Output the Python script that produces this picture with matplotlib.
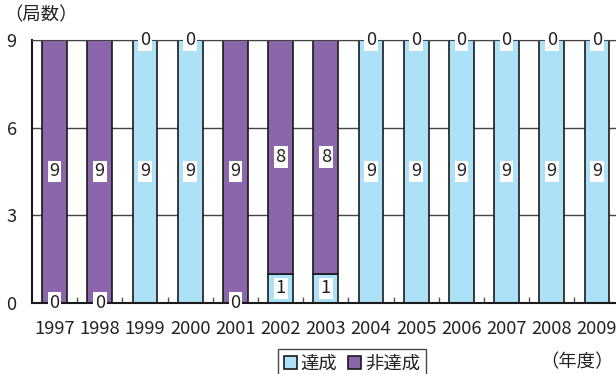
import matplotlib
matplotlib.use("Agg")
import matplotlib.pyplot as plt
from matplotlib.patches import Patch
import numpy as np

plt.rcParams['font.family'] = ['Noto Sans CJK JP', 'DejaVu Sans']

years = ["1997", "1998", "1999", "2000", "2001", "2002", "2003",
         "2004", "2005", "2006", "2007", "2008", "2009"]
achieved = [0, 0, 9, 9, 0, 1, 1, 9, 9, 9, 9, 9, 9]
not_achieved = [9, 9, 0, 0, 9, 8, 8, 0, 0, 0, 0, 0, 0]
series_names = ["達成", "非達成"]
y_ticks = [0, 3, 6, 9]

col_ach = "#ade1f8"
col_non = "#8c66aa"
text_color = "#222222"
fs = 13.2

fig = plt.figure(figsize=(6.16, 3.74), dpi=100)
ax = fig.add_axes([32 / 616, 71 / 374, 587.6 / 616, 263 / 374])

x = np.arange(len(years))
w = 0.55
b1 = ax.bar(x, achieved, width=w, color=col_ach, edgecolor="#1a1a1a", linewidth=1.2, zorder=2)
b2 = ax.bar(x, not_achieved, width=w, bottom=achieved, color=col_non,
            edgecolor="#1a1a1a", linewidth=1.2, zorder=2)

box = dict(boxstyle="square,pad=0.1", facecolor="white", edgecolor="none")
for i in range(len(years)):
    a, n = achieved[i], not_achieved[i]
    ax.text(x[i], a / 2, str(a), ha="center", va="center", fontsize=fs,
            color=text_color, bbox=box, zorder=5)
    ax.text(x[i], a + n / 2, str(n), ha="center", va="center", fontsize=fs,
            color=text_color, bbox=box, zorder=5, clip_on=False)

ax.set_xlim(-0.5, len(years) - 0.5)
ax.set_ylim(0, 9)
ax.set_yticks(y_ticks)
ax.set_yticklabels([str(v) for v in y_ticks], fontsize=fs, color=text_color)
ax.tick_params(axis="y", length=0, pad=11)
ax.set_xticks(x)
ax.set_xticklabels(years, fontsize=fs, color=text_color)
ax.tick_params(axis="x", which="major", length=0, pad=12)
ax.set_xticks(x[:-1] + 0.5, minor=True)
ax.tick_params(axis="x", which="minor", direction="in", length=4, color="#555555", width=1)

ax.set_axisbelow(True)
ax.yaxis.grid(True, color="#444444", linewidth=1.0, zorder=0)
ax.spines["right"].set_visible(False)
ax.spines["top"].set_color("#444444")
ax.spines["left"].set_color("#1a1a1a")
ax.spines["bottom"].set_color("#1a1a1a")
ax.spines["left"].set_linewidth(1.5)
ax.spines["bottom"].set_linewidth(1.5)

fig.text(4 / 616, 1 - 15 / 374, "（局数）", fontsize=fs, color=text_color, va="center", ha="left")
fig.text(614 / 616, 1 - 362 / 374, "（年度）", fontsize=fs, color=text_color, va="center", ha="right")

handles = [Patch(facecolor=col_ach, edgecolor="#1a1a1a", linewidth=1.2),
           Patch(facecolor=col_non, edgecolor="#1a1a1a", linewidth=1.2)]
leg = fig.legend(handles, series_names, loc="center", bbox_to_anchor=(352 / 616, 1 - 364 / 374),
                 ncol=2, fontsize=fs, frameon=True, fancybox=False, handlelength=0.7,
                 handleheight=0.7, handletextpad=0.2, columnspacing=0.6, borderpad=0.35,
                 borderaxespad=0)
leg.get_frame().set_edgecolor("#1a1a1a")
leg.get_frame().set_linewidth(1.0)
for t in leg.get_texts():
    t.set_color(text_color)

fig.savefig("out.png", dpi=100)
